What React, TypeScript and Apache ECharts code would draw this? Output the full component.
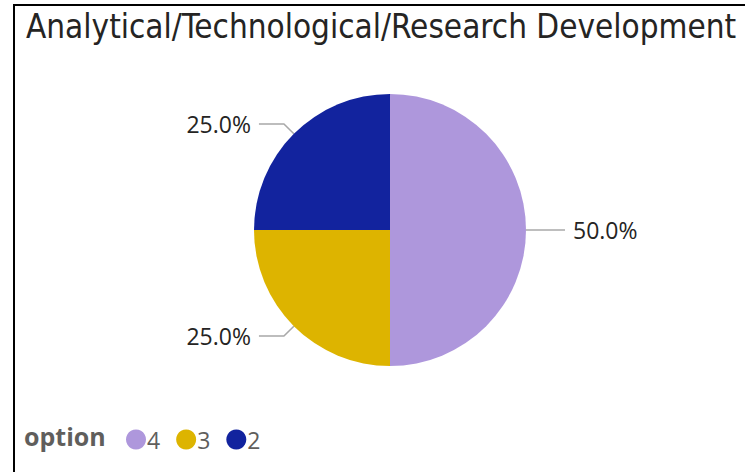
import React, { useEffect, useRef } from "react";
import * as echarts from "echarts";

const titleText = "Analytical/Technological/Research Development";
const legendTitle = "option";
const categories = ["4", "3", "2"];
const values = [2, 1, 1];
const colors = ["#AE97DC", "#DDB400", "#12239E"];

export default function App() {
  const ref = useRef<HTMLDivElement>(null);
  useEffect(() => {
    const chart = echarts.init(ref.current!, null, { renderer: "svg" });
    const total = values.reduce((a, b) => a + b, 0);
    chart.setOption({
      animation: false,
      backgroundColor: "#ffffff",
      title: {
        text: titleText,
        left: 21,
        top: 5,
        textStyle: {
          fontFamily: "DejaVu Sans Condensed",
          fontSize: 33,
          fontWeight: "normal",
          color: "#252423",
        },
      },
      legend: {
        left: 121,
        top: 423,
        icon: "circle",
        itemWidth: 20,
        itemHeight: 20,
        itemGap: 16,
        data: categories,
        textStyle: {
          fontFamily: "Open Sans",
          fontSize: 23,
          color: "#605E5C",
          padding: [0, 0, 0, -4],
        },
      },
      graphic: [
        {
          type: "text",
          left: 24,
          top: 423,
          style: {
            text: legendTitle,
            fontFamily: "Open Sans",
            fontWeight: "bold",
            fontSize: 25,
            fill: "#605E5C",
          },
        },
        {
          type: "line",
          shape: { x1: 14, y1: 5, x2: 14, y2: 472 },
          style: { stroke: "#000000", lineWidth: 2 },
        },
        {
          type: "line",
          shape: { x1: 13, y1: 5, x2: 745, y2: 5 },
          style: { stroke: "#000000", lineWidth: 2 },
        },
      ],
      series: [
        {
          type: "pie",
          center: [390, 230],
          radius: [0, 136],
          startAngle: 90,
          clockwise: true,
          data: categories.map((c, i) => ({
            name: c,
            value: values[i],
            itemStyle: { color: colors[i] },
          })),
          label: {
            show: true,
            formatter: (p: any) => ((p.value / total) * 100).toFixed(1) + "%",
            fontFamily: "Open Sans",
            fontSize: 23,
            color: "#252423",
            distanceToLabelLine: 8,
          },
          labelLine: {
            show: true,
            length: 14,
            length2: 25,
            lineStyle: { color: "#A8A8A8", width: 1.5 },
          },
          emphasis: { disabled: true },
        },
      ],
    });
    return () => chart.dispose();
  }, []);
  return (
    <div
      ref={ref}
      style={{ position: "absolute", left: 0, top: 0, width: 745, height: 472 }}
    />
  );
}
